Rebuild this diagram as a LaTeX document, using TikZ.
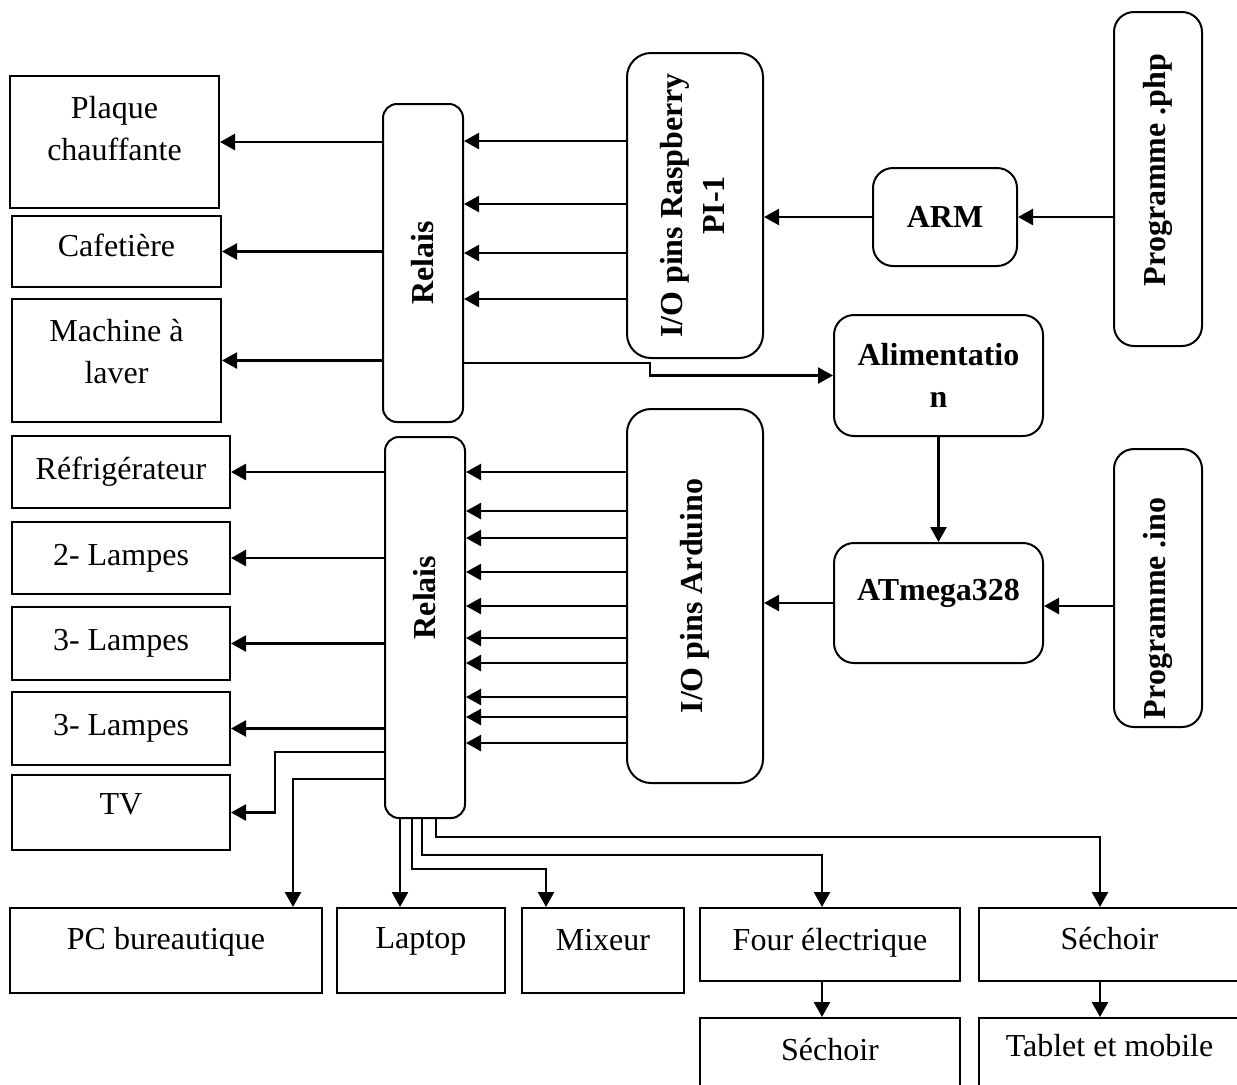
\documentclass[tikz,border=0pt]{standalone}
\usepackage{fontspec}
\setmainfont{Liberation Serif}
\usetikzlibrary{positioning, arrows.meta, calc}

\begin{document}
\begin{tikzpicture}[
        x=0.5pt, y=-0.5pt,
        box/.style={draw, line width=1pt, inner sep=2pt, align=center, font=\fontsize{16}{21}\selectfont},
        rbox/.style={box, rounded corners=#1},
        rbox/.default=10pt,
        wh/.style 2 args={minimum width=#1*0.5pt, minimum height=#2*0.5pt},
        lift/.style={text depth=#1},
        arr/.style={-{Triangle[length=7.5pt, width=8pt]}, line width=1.2pt},
    ]
    \useasboundingbox (0,0) rectangle (1237,1084);

    % ---- APPLIANCES (left column) ----
    \node[box, wh={209}{132}, lift=13.5pt] (plaque) at (114.5,142) {Plaque\\chauffante};
    \node[box, wh={209}{71}, lift=6pt] (cafe) at (116.5,251.5) {Cafetière};
    \node[box, wh={209}{123}, lift=9pt] (machine) at (116.5,360.5) {Machine à\\laver};
    \node[box, wh={218}{72}] (fridge) at (121,472) {Réfrigérateur};
    \node[box, wh={218}{72}] (lamp2) at (121,558) {2- Lampes};
    \node[box, wh={218}{73}] (lamp3a) at (121,643.5) {3- Lampes};
    \node[box, wh={218}{73}] (lamp3b) at (121,728.5) {3- Lampes};
    \node[box, wh={218}{75}, lift=8pt] (tv) at (121,812.5) {TV};

    % ---- RELAYS ----
    \node[rbox=7pt, wh={80}{318}] (relT) at (423,263) {\rotatebox{90}{\bfseries Relais}};
    \node[rbox=7pt, wh={80}{381}, lift=30pt] (relB) at (425,627.5) {\rotatebox{90}{\bfseries Relais}};

    % ---- CONTROLLERS ----
    \node[rbox=12pt, wh={136}{305}] (ioR) at (695,205.5) {\rotatebox{90}{\bfseries\begin{tabular}{@{}c@{}}I/O pins Raspberry\\PI-1\end{tabular}}};
    \node[rbox=12pt, wh={136}{374}] (ioA) at (695,596) {\rotatebox{90}{\bfseries I/O pins Arduino}};
    \node[rbox, wh={144}{98}] (arm) at (945,217) {\bfseries ARM};
    \node[rbox, wh={209}{121}] (alim) at (938.5,375.5) {\bfseries Alimentatio\\\bfseries n};
    \node[rbox, wh={209}{120}, lift=13.5pt] (atm) at (938.5,603) {\bfseries ATmega328};
    \node[rbox, wh={88}{334}, lift=9pt] (php) at (1158,179) {\rotatebox{90}{\bfseries Programme .php}};
    \node[rbox, wh={88}{278}, text height=131pt, text depth=0pt] (ino) at (1158,588) {\rotatebox{90}{\bfseries Programme .ino}};

    % ---- APPLIANCES (bottom rows) ----
    \node[box, wh={312}{85}, lift=12.5pt] (pc) at (166,950.5) {PC bureautique};
    \node[box, wh={168}{85}, lift=12.5pt] (laptop) at (421,950.5) {Laptop};
    \node[box, wh={162}{85}, lift=11pt] (mixeur) at (603,950.5) {Mixeur};
    \node[box, wh={260}{73}, lift=5pt] (four) at (830,944.5) {Four électrique};
    \node[box, wh={261}{73}, lift=6pt] (sech1) at (1109.5,944.5) {Séchoir};
    \node[box, wh={260}{74}, lift=6pt] (sech2) at (830,1055) {Séchoir};
    \node[box, wh={261}{74}, lift=9.5pt] (tablet) at (1109.5,1055) {Tablet et mobile};

    % ---- ARROWS (top relays) ----
    \draw[arr] (relT.west |- plaque.east) -- (plaque.east);
    \draw[arr] (relT.west |- cafe.east) -- (cafe.east);
    \draw[arr] (relT.west |- machine.east) -- (machine.east);
    \foreach \y in {141,204,253,299}
        \draw[arr] (ioR.west |- 0,\y) -- (relT.east |- 0,\y);
    \coordinate (alimstep) at (650,0);
    \draw[arr] (relT.east |- 0,363) -- (alimstep |- 0,363) |- (alim.west);

    % ---- ARROWS (processors) ----
    \draw[arr] (php.west |- arm.west) -- (arm.east);
    \draw[arr] (arm.west) -- (ioR.east |- arm.west);
    \draw[arr] (alim.south) -- (atm.north);
    \draw[arr] (ino.west |- 0,606) -- (atm.east |- 0,606);
    \draw[arr] (atm.west) -- (ioA.east |- atm.west);

    % ---- ARROWS (bottom relays) ----
    \foreach \y in {472,511,538,572,606,638,663,697,717,743}
        \draw[arr] (ioA.west |- 0,\y) -- (relB.east |- 0,\y);
    \foreach \dev in {fridge,lamp2,lamp3a,lamp3b}
        \draw[arr] (relB.west |- \dev.east) -- (\dev.east);
    \coordinate (tvstep) at (275,752);
    \draw[arr] (relB.west |- tvstep) -- (tvstep) |- (tv.east);
    \draw[arr] (relB.west |- 0,779) -| (pc.north -| 293,0);
    \draw[arr] (relB.south -| 400,0) -- (laptop.north -| 400,0);
    \draw[arr] (relB.south -| 412,0) -- ++(0,50) -| (mixeur.north -| 546,0);
    \draw[arr] (relB.south -| 422,0) -- ++(0,36) -| (four.north -| 822,0);
    \draw[arr] (relB.south -| 436,0) -- ++(0,18) -| (sech1.north -| 1100,0);
    \draw[arr] (four.south -| 822,0) -- (sech2.north -| 822,0);
    \draw[arr] (sech1.south -| 1100,0) -- (tablet.north -| 1100,0);

\end{tikzpicture}
\end{document}
